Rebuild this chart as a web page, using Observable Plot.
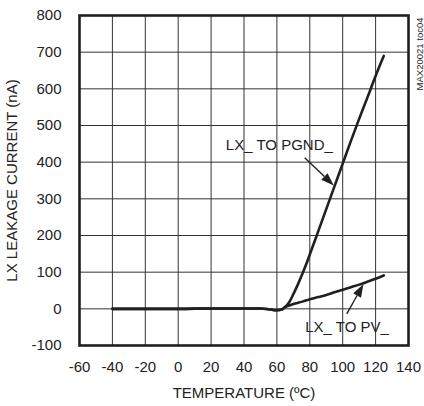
<!DOCTYPE html>
<html>
<head>
<meta charset="utf-8">
<script src="https://cdn.jsdelivr.net/npm/d3@7"></script>
<script src="https://cdn.jsdelivr.net/npm/@observablehq/plot@0.6"></script>
<style>
  html, body { margin: 0; padding: 0; background: #fff; }
</style>
</head>
<body>
<div id="chart"></div>
<script>
// Temperature (°C)
const temps = [-40, -20, 0, 20, 40, 50, 55, 60, 63, 65, 67.5, 70, 72.5, 75, 77.5, 80, 85, 90, 95, 100, 105, 110, 115, 120, 125];
// LX_ to PGND_ leakage (nA)
const pgnd  = [0, 0, 0, 1, 1, 1, -1, -4, -2, 5, 18, 40, 64, 90, 118, 148, 210, 272, 334, 396, 458, 518, 576, 635, 690];
// LX_ to PV_ leakage (nA)
const pv    = [0, 0, 0, 1, 1, 1, -1, -4, -2, 5, 9, 13, 16, 19, 23, 26, 32, 38, 45, 52, 59, 66, 74, 82, 91];

const xTicks = [-60, -40, -20, 0, 20, 40, 60, 80, 100, 120, 140];
const yTicks = [-100, 0, 100, 200, 300, 400, 500, 600, 700, 800];

// annotations
const labelText = ["LX_ TO PGND_", "LX_ TO PV_"];
const labelX = [61.5, 102.6];
const labelY = [446, -50];
const arrowX1 = [77.2, 102.8];
const arrowY1 = [411, -15];
const arrowX2 = [94.9, 112.9];
const arrowY2 = [335, 66];

const rows = [];
temps.forEach((t, i) => {
  rows.push({t, v: pgnd[i], s: "PGND"});
  rows.push({t, v: pv[i], s: "PV"});
});
const labels = labelText.map((text, i) => ({text, x: labelX[i], y: labelY[i]}));
const arrows = arrowX1.map((x1, i) => ({x1, y1: arrowY1[i], x2: arrowX2[i], y2: arrowY2[i]}));

const ink = "#231f20";

function arrowMark(index, scales) {
  const g = d3.create("svg:g");
  for (const a of arrows) {
    const x1 = scales.x(a.x1), y1 = scales.y(a.y1);
    const x2 = scales.x(a.x2), y2 = scales.y(a.y2);
    const ang = Math.atan2(y2 - y1, x2 - x1);
    const L = 13, W = 4.5;
    const bx = x2 - L * Math.cos(ang), by = y2 - L * Math.sin(ang);
    g.append("line")
      .attr("x1", x1).attr("y1", y1).attr("x2", bx).attr("y2", by)
      .attr("stroke", ink).attr("stroke-width", 1.4);
    const px = -Math.sin(ang) * W, py = Math.cos(ang) * W;
    g.append("path")
      .attr("d", `M${x2},${y2}L${bx + px},${by + py}L${bx - px},${by - py}Z`)
      .attr("fill", ink);
  }
  return g.node();
}

const chart = Plot.plot({
  width: 424,
  height: 406,
  marginLeft: 79,
  marginRight: 16,
  marginTop: 15,
  marginBottom: 61,
  style: {fontFamily: "'Liberation Sans', Arial, sans-serif", fontSize: "15px", color: "#222", background: "#fff"},
  x: {domain: [-60, 140]},
  y: {domain: [-100, 800]},
  marks: [
    Plot.gridX(xTicks.slice(1, -1), {stroke: "#333", strokeOpacity: 1, strokeWidth: 1}),
    Plot.gridY(yTicks.slice(1, -1), {stroke: "#333", strokeOpacity: 1, strokeWidth: 1}),
    Plot.axisX(xTicks, {tickSize: 0, tickPadding: 16, tickFormat: d => String(d), label: "TEMPERATURE (ºC)", labelArrow: "none", labelAnchor: "center", labelOffset: 52, fill: "#222"}),
    Plot.axisY(yTicks, {tickSize: 0, tickPadding: 18, tickFormat: d => String(d), label: "LX LEAKAGE CURRENT (nA)", labelArrow: "none", labelAnchor: "center", labelOffset: 73, fill: "#222"}),
    Plot.line(rows, {x: "t", y: "v", z: "s", stroke: ink, strokeWidth: 2.6, curve: "monotone-x"}),
    Plot.text(labels, {x: "x", y: "y", text: "text", fill: "#222", fontSize: 15}),
    arrowMark,
    Plot.text(["MAX20021 toc04"], {frameAnchor: "top-right", text: d => d, rotate: -90, textAnchor: "end", dx: 8, dy: 2, fontSize: 9.5, fill: "#222"}),
    Plot.frame({stroke: ink, strokeWidth: 2.6})
  ]
});
document.getElementById("chart").appendChild(chart);
</script>
</body>
</html>
